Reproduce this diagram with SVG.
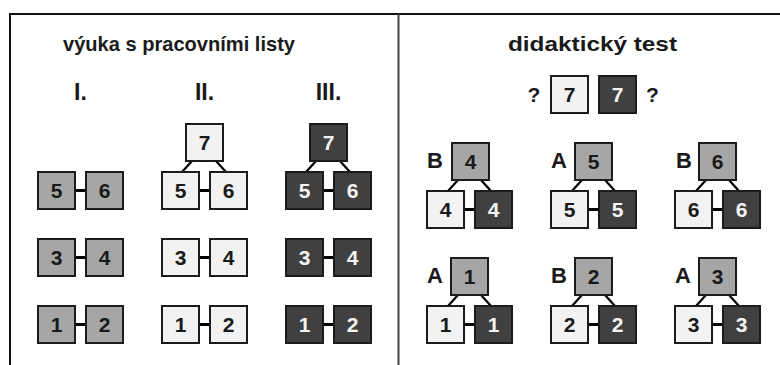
<svg xmlns="http://www.w3.org/2000/svg" width="780" height="365" viewBox="0 0 780 365">
  <style>
    text { font-family: "Liberation Sans", Arial, sans-serif; font-weight: bold; }
    .hd { font-size: 21px; fill: #1a1a1a; text-anchor: middle; }
    .rn { font-size: 23px; fill: #1a1a1a; text-anchor: middle; }
    .lb { font-size: 22px; fill: #1a1a1a; }
    .q  { font-size: 21px; fill: #1a1a1a; text-anchor: middle; }
    .box rect { stroke: #1c1c1c; stroke-width: 2; }
    .box text { font-size: 21px; text-anchor: middle; }
    .g rect { fill: #a6a6a6; }
    .l rect { fill: #f2f2f2; }
    .d rect { fill: #404040; }
    .g text, .l text { fill: #1a1a1a; }
    .d text { fill: #f4f4f4; }
    .link { stroke: #000; stroke-width: 3; }
    .branch { stroke: #000; stroke-width: 2.2; }
    .frame { fill: none; stroke: #111; stroke-width: 2; }
  </style>

  <!-- outer frame and panel divider -->
  <path class="frame" d="M10,365 V14 H780"/>
  <line x1="398.5" y1="14" x2="398.5" y2="365" stroke="#444" stroke-width="2"/>

  <!-- headings -->
  <text class="hd" x="179" y="51" textLength="232" lengthAdjust="spacingAndGlyphs">výuka s pracovními listy</text>
  <text class="hd" x="592.5" y="51" textLength="169" lengthAdjust="spacingAndGlyphs">didaktický test</text>
  <text class="rn" x="80.5" y="100">I.</text>
  <text class="rn" x="204.5" y="100">II.</text>
  <text class="rn" x="328.5" y="100">III.</text>

  <!-- connectors -->
  <g id="connectors">
    <!-- column I -->
    <line class="link" x1="75" y1="190.5" x2="86" y2="190.5"/>
    <line class="link" x1="75" y1="257.5" x2="86" y2="257.5"/>
    <line class="link" x1="75" y1="324.5" x2="86" y2="324.5"/>
    <!-- column II -->
    <line class="link" x1="199" y1="190.5" x2="210" y2="190.5"/>
    <line class="link" x1="199" y1="257.5" x2="210" y2="257.5"/>
    <line class="link" x1="199" y1="324.5" x2="210" y2="324.5"/>
    <line class="branch" x1="192" y1="161" x2="182" y2="172"/>
    <line class="branch" x1="216" y1="161" x2="226" y2="172"/>
    <!-- column III -->
    <line class="link" x1="323" y1="190.5" x2="334" y2="190.5"/>
    <line class="link" x1="323" y1="257.5" x2="334" y2="257.5"/>
    <line class="link" x1="323" y1="324.5" x2="334" y2="324.5"/>
    <line class="branch" x1="316" y1="161" x2="306" y2="172"/>
    <line class="branch" x1="340" y1="161" x2="350" y2="172"/>
    <!-- test row 1 -->
    <line class="link" x1="464" y1="209.5" x2="475" y2="209.5"/>
    <line class="branch" x1="458" y1="180" x2="448" y2="191"/>
    <line class="branch" x1="481" y1="180" x2="491" y2="191"/>
    <line class="link" x1="588" y1="209.5" x2="599" y2="209.5"/>
    <line class="branch" x1="582" y1="180" x2="572" y2="191"/>
    <line class="branch" x1="605" y1="180" x2="615" y2="191"/>
    <line class="link" x1="712" y1="209.5" x2="723" y2="209.5"/>
    <line class="branch" x1="706" y1="180" x2="696" y2="191"/>
    <line class="branch" x1="729" y1="180" x2="739" y2="191"/>
    <!-- test row 2 -->
    <line class="link" x1="464" y1="324.5" x2="475" y2="324.5"/>
    <line class="branch" x1="458" y1="295" x2="448" y2="306"/>
    <line class="branch" x1="481" y1="295" x2="491" y2="306"/>
    <line class="link" x1="588" y1="324.5" x2="599" y2="324.5"/>
    <line class="branch" x1="582" y1="295" x2="572" y2="306"/>
    <line class="branch" x1="605" y1="295" x2="615" y2="306"/>
    <line class="link" x1="712" y1="324.5" x2="723" y2="324.5"/>
    <line class="branch" x1="706" y1="295" x2="696" y2="306"/>
    <line class="branch" x1="729" y1="295" x2="739" y2="306"/>
  </g>

  <!-- column I : grey -->
  <g id="n-I-5" class="box g"><rect x="38" y="172" width="37" height="37"/><text x="56.5" y="198">5</text></g>
  <g id="n-I-6" class="box g"><rect x="86" y="172" width="37" height="37"/><text x="104.5" y="198">6</text></g>
  <g id="n-I-3" class="box g"><rect x="38" y="239" width="37" height="37"/><text x="56.5" y="265">3</text></g>
  <g id="n-I-4" class="box g"><rect x="86" y="239" width="37" height="37"/><text x="104.5" y="265">4</text></g>
  <g id="n-I-1" class="box g"><rect x="38" y="306" width="37" height="37"/><text x="56.5" y="332">1</text></g>
  <g id="n-I-2" class="box g"><rect x="86" y="306" width="37" height="37"/><text x="104.5" y="332">2</text></g>

  <!-- column II : light -->
  <g id="n-II-7" class="box l"><rect x="186" y="124" width="37" height="37"/><text x="204.5" y="150">7</text></g>
  <g id="n-II-5" class="box l"><rect x="162" y="172" width="37" height="37"/><text x="180.5" y="198">5</text></g>
  <g id="n-II-6" class="box l"><rect x="210" y="172" width="37" height="37"/><text x="228.5" y="198">6</text></g>
  <g id="n-II-3" class="box l"><rect x="162" y="239" width="37" height="37"/><text x="180.5" y="265">3</text></g>
  <g id="n-II-4" class="box l"><rect x="210" y="239" width="37" height="37"/><text x="228.5" y="265">4</text></g>
  <g id="n-II-1" class="box l"><rect x="162" y="306" width="37" height="37"/><text x="180.5" y="332">1</text></g>
  <g id="n-II-2" class="box l"><rect x="210" y="306" width="37" height="37"/><text x="228.5" y="332">2</text></g>

  <!-- column III : dark -->
  <g id="n-III-7" class="box d"><rect x="310" y="124" width="37" height="37"/><text x="328.5" y="150">7</text></g>
  <g id="n-III-5" class="box d"><rect x="286" y="172" width="37" height="37"/><text x="304.5" y="198">5</text></g>
  <g id="n-III-6" class="box d"><rect x="334" y="172" width="37" height="37"/><text x="352.5" y="198">6</text></g>
  <g id="n-III-3" class="box d"><rect x="286" y="239" width="37" height="37"/><text x="304.5" y="265">3</text></g>
  <g id="n-III-4" class="box d"><rect x="334" y="239" width="37" height="37"/><text x="352.5" y="265">4</text></g>
  <g id="n-III-1" class="box d"><rect x="286" y="306" width="37" height="37"/><text x="304.5" y="332">1</text></g>
  <g id="n-III-2" class="box d"><rect x="334" y="306" width="37" height="37"/><text x="352.5" y="332">2</text></g>

  <!-- test: question -->
  <text class="q" x="534" y="102">?</text>
  <g id="t-q-light" class="box l"><rect x="551" y="76" width="37" height="37"/><text x="569.5" y="102">7</text></g>
  <g id="t-q-dark" class="box d"><rect x="599" y="76" width="37" height="37"/><text x="617.5" y="102">7</text></g>
  <text class="q" x="652.5" y="102">?</text>

  <!-- test row 1 -->
  <text class="lb" x="427" y="168">B</text>
  <g id="t-4" class="box g"><rect x="452" y="143" width="37" height="37"/><text x="470.5" y="169">4</text></g>
  <g id="t-4l" class="box l"><rect x="427" y="191" width="37" height="37"/><text x="445.5" y="217">4</text></g>
  <g id="t-4d" class="box d"><rect x="475" y="191" width="37" height="37"/><text x="493.5" y="217">4</text></g>

  <text class="lb" x="551" y="168">A</text>
  <g id="t-5" class="box g"><rect x="575" y="143" width="37" height="37"/><text x="593.5" y="169">5</text></g>
  <g id="t-5l" class="box l"><rect x="551" y="191" width="37" height="37"/><text x="569.5" y="217">5</text></g>
  <g id="t-5d" class="box d"><rect x="599" y="191" width="37" height="37"/><text x="617.5" y="217">5</text></g>

  <text class="lb" x="676" y="168">B</text>
  <g id="t-6" class="box g"><rect x="699" y="143" width="37" height="37"/><text x="717.5" y="169">6</text></g>
  <g id="t-6l" class="box l"><rect x="675" y="191" width="37" height="37"/><text x="693.5" y="217">6</text></g>
  <g id="t-6d" class="box d"><rect x="723" y="191" width="37" height="37"/><text x="741.5" y="217">6</text></g>

  <!-- test row 2 -->
  <text class="lb" x="427" y="283">A</text>
  <g id="t-1" class="box g"><rect x="451" y="258" width="37" height="37"/><text x="469.5" y="284">1</text></g>
  <g id="t-1l" class="box l"><rect x="427" y="306" width="37" height="37"/><text x="445.5" y="332">1</text></g>
  <g id="t-1d" class="box d"><rect x="475" y="306" width="37" height="37"/><text x="493.5" y="332">1</text></g>

  <text class="lb" x="551" y="283">B</text>
  <g id="t-2" class="box g"><rect x="575" y="258" width="37" height="37"/><text x="593.5" y="284">2</text></g>
  <g id="t-2l" class="box l"><rect x="551" y="306" width="37" height="37"/><text x="569.5" y="332">2</text></g>
  <g id="t-2d" class="box d"><rect x="599" y="306" width="37" height="37"/><text x="617.5" y="332">2</text></g>

  <text class="lb" x="675" y="283">A</text>
  <g id="t-3" class="box g"><rect x="699" y="258" width="37" height="37"/><text x="717.5" y="284">3</text></g>
  <g id="t-3l" class="box l"><rect x="675" y="306" width="37" height="37"/><text x="693.5" y="332">3</text></g>
  <g id="t-3d" class="box d"><rect x="723" y="306" width="37" height="37"/><text x="741.5" y="332">3</text></g>
</svg>
